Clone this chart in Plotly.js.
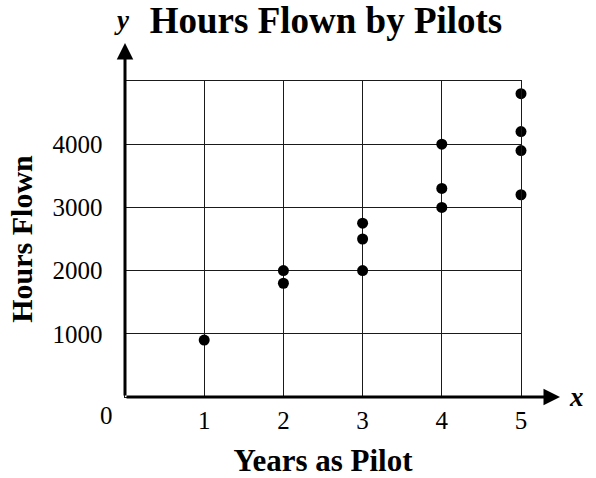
<!DOCTYPE html>
<html>
<head>
<meta charset="utf-8">
<script src="https://cdn.plot.ly/plotly-3.0.1.min.js"></script>
<style>html,body{margin:0;padding:0;background:#fff;}</style>
</head>
<body>
<div id="chart" style="width:596px;height:478px;"></div>
<script>
const years = [1, 2, 2, 3, 3, 3, 4, 4, 4, 5, 5, 5, 5];
const hours = [900, 1800, 2000, 2000, 2500, 2750, 3000, 3300, 4000, 3200, 3900, 4200, 4800];
const xTickVals = [0, 1, 2, 3, 4, 5];
const xTickText = ['', '1', '2', '3', '4', '5'];
const yTickVals = [0, 1000, 2000, 3000, 4000, 5000];
const yTickText = ['', '1000', '2000', '3000', '4000', ''];
const titleText = 'Hours Flown by Pilots';
const xTitle = 'Years as Pilot';
const yTitle = 'Hours Flown';

const serif = 'Liberation Serif, Times New Roman, serif';

const trace = {
  x: years, y: hours, type: 'scatter', mode: 'markers',
  marker: {color: '#000', size: 11},
  cliponaxis: false, hoverinfo: 'skip'
};

const layout = {
  width: 596, height: 478,
  margin: {l: 125, r: 75, t: 81, b: 81},
  paper_bgcolor: '#fff', plot_bgcolor: '#fff',
  showlegend: false,
  font: {family: serif, color: '#000', size: 25},
  title: {
    text: titleText,
    font: {family: serif, size: 37, weight: 'bold', color: '#000'},
    xref: 'container', x: 326/596, xanchor: 'center',
    yref: 'container', y: 1 - 20/478, yanchor: 'middle'
  },
  xaxis: {
    range: [0, 5], tickvals: xTickVals, ticktext: xTickText,
    showgrid: true, gridcolor: '#1a1a1a', gridwidth: 1.4,
    showline: true, mirror: true, linecolor: '#1a1a1a', linewidth: 1.4,
    zeroline: false, ticks: '',
    ticklabelstandoff: 1,
    tickfont: {family: serif, size: 25, color: '#000'},
    title: {text: xTitle, font: {family: serif, size: 31, weight: 'bold', color: '#000'}, standoff: 20},
    fixedrange: true
  },
  yaxis: {
    range: [0, 5000], tickvals: yTickVals, ticktext: yTickText,
    showgrid: true, gridcolor: '#1a1a1a', gridwidth: 1.4,
    showline: true, mirror: true, linecolor: '#1a1a1a', linewidth: 1.4,
    zeroline: false, ticks: '',
    ticklabelstandoff: 16,
    tickfont: {family: serif, size: 25, color: '#000'},
    title: {text: yTitle, font: {family: serif, size: 30, weight: 'bold', color: '#000'}, standoff: 11},
    fixedrange: true
  },
  annotations: [
    {xref: 'paper', yref: 'paper', x: 0, y: (397 - 43) / 316 , showarrow: true,
     ax: 0, ay: 354,
     arrowhead: 2, arrowsize: 1.1, arrowwidth: 3, arrowcolor: '#000', text: ''},
    {xref: 'paper', yref: 'paper', x: (560 - 125) / 396, y: 0, showarrow: true,
     ax: -435, ay: 0,
     arrowhead: 2, arrowsize: 1.1, arrowwidth: 3, arrowcolor: '#000', text: ''},
    {xref: 'paper', yref: 'paper', x: 0, y: 0, xanchor: 'right', yanchor: 'top',
     xshift: -10, yshift: -3, showarrow: false, text: '0',
     font: {family: serif, size: 25, color: '#000'}},
    {xref: 'paper', yref: 'paper', x: (576 - 125) / 396, y: 0, xanchor: 'center', yanchor: 'middle',
     showarrow: false, text: '<i>x</i>', font: {family: serif, size: 27, weight: 'bold', color: '#000'}},
    {xref: 'paper', yref: 'paper', x: (122 - 125) / 396, y: (397 - 20) / 316, xanchor: 'center', yanchor: 'middle',
     showarrow: false, text: '<i>y</i>', font: {family: serif, size: 27, weight: 'bold', color: '#000'}}
  ]
};

Plotly.newPlot('chart', [trace], layout, {displayModeBar: false, staticPlot: true});
</script>
</body>
</html>
